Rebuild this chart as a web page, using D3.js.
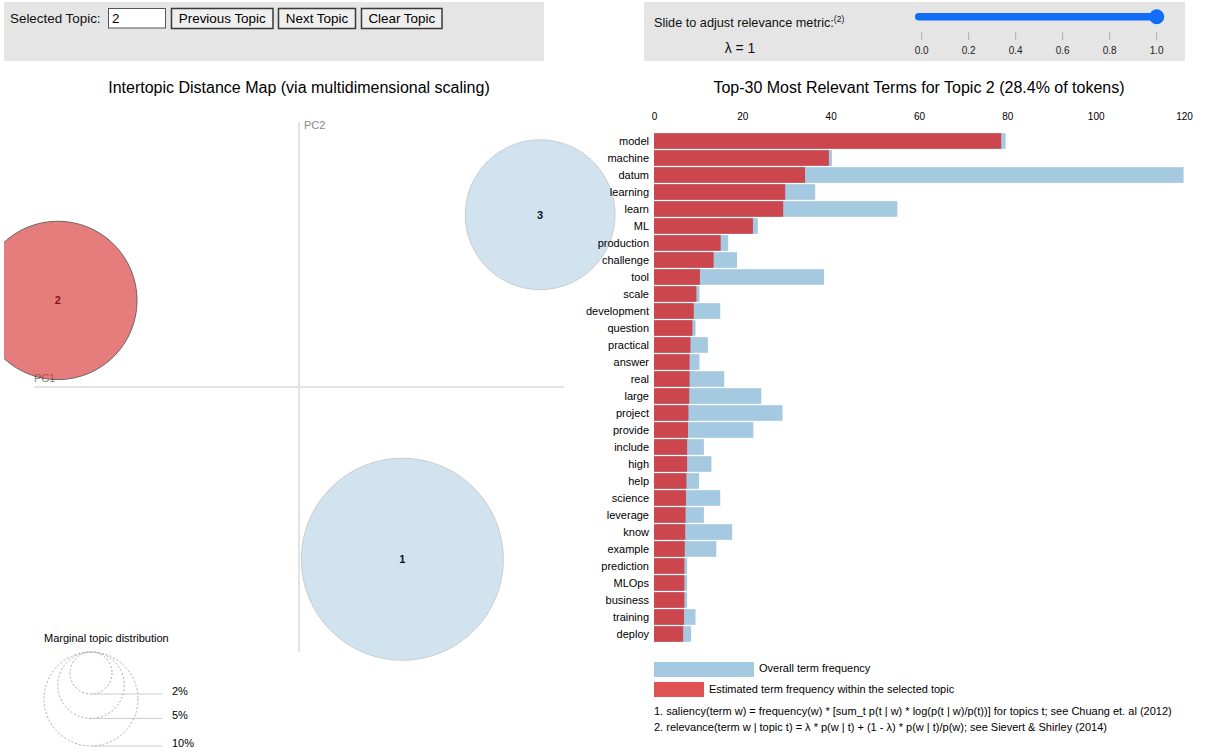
<!DOCTYPE html>
<html>
<head>
<meta charset="utf-8">
<script src="https://cdn.jsdelivr.net/npm/d3@7"></script>
<style>
  html, body { margin: 0; padding: 0; background: #fff; }
  svg { display: block; font-family: "Liberation Sans", Arial, Helvetica, sans-serif; }
</style>
</head>
<body>
<svg id="chart" width="1205" height="755"></svg>
<script>
// ---------------- DATA ----------------
const topicIds = [1, 2, 3];
const topicPC1 = [0.117, -0.273, 0.273];
const topicPC2 = [-0.195, 0.098, 0.195];
const topicFreq = [46.2, 28.4, 25.4];           // % of tokens
const selectedTopic = 2;

const terms = ["model", "machine", "datum", "learning", "learn", "ML", "production", "challenge",
  "tool", "scale", "development", "question", "practical", "answer", "real", "large", "project",
  "provide", "include", "high", "help", "science", "leverage", "know", "example", "prediction",
  "MLOps", "business", "training", "deploy"];
const termTotal = [79.6, 40.3, 119.9, 36.5, 55.1, 23.5, 16.8, 18.8, 38.5, 10.3, 15.0, 9.4, 12.2,
  10.3, 15.9, 24.3, 29.1, 22.5, 11.3, 13.0, 10.2, 15.0, 11.3, 17.7, 14.1, 7.5, 7.5, 7.5, 9.4, 8.4];
const termTopic = [78.6, 39.6, 34.2, 29.7, 29.25, 22.4, 15.1, 13.5, 10.4, 9.6, 9.0, 8.7, 8.25,
  8.06, 8.06, 7.97, 7.79, 7.7, 7.5, 7.5, 7.33, 7.24, 7.15, 7.06, 6.97, 6.88, 6.88, 6.88, 6.8, 6.6];

const barTicks = [0, 20, 40, 60, 80, 100, 120];
const lambdaTicks = [0, 0.2, 0.4, 0.6, 0.8, 1.0];
const lambdaValue = 1;
const legendPcts = [2, 5, 10];
const buttonLabels = ["Previous Topic", "Next Topic", "Clear Topic"];
const footnotes = [
  "1. saliency(term w) = frequency(w) * [sum_t p(t | w) * log(p(t | w)/p(t))] for topics t; see Chuang et. al (2012)",
  "2. relevance(term w | topic t) = \u03bb * p(w | t) + (1 - \u03bb) * p(w | t)/p(w); see Sievert & Shirley (2014)"
];

// ---------------- STYLE ----------------
const color1 = "#1f77b4", color2 = "#d62728";
const svg = d3.select("#chart");

// ---------------- TOP CONTROLS ----------------
svg.append("rect").attr("x", 4).attr("y", 2).attr("width", 540).attr("height", 59).attr("fill", "#e5e5e5");
svg.append("rect").attr("x", 644).attr("y", 2).attr("width", 541).attr("height", 59).attr("fill", "#e5e5e5");

svg.append("text").attr("x", 10).attr("y", 23).attr("font-size", 13.4).attr("fill", "#111").text("Selected Topic:");
svg.append("rect").attr("x", 108.5).attr("y", 8.5).attr("width", 57).attr("height", 19.5)
  .attr("fill", "#fff").attr("stroke", "#555").attr("stroke-width", 1);
svg.append("text").attr("x", 112).attr("y", 23).attr("font-size", 13.4).attr("fill", "#000").text(String(selectedTopic));

const btnX = [171.5, 278.5, 361.5], btnW = [101.5, 77, 80.5];
buttonLabels.forEach((lab, i) => {
  svg.append("rect").attr("x", btnX[i]).attr("y", 8.5).attr("width", btnW[i]).attr("height", 20)
    .attr("fill", "#efefef").attr("stroke", "#3a3a3a").attr("stroke-width", 1.5);
  svg.append("text").attr("x", btnX[i] + btnW[i] / 2).attr("y", 23).attr("text-anchor", "middle")
    .attr("font-size", 13.4).attr("fill", "#000").text(lab);
});

const sl = svg.append("text").attr("x", 654).attr("y", 27).attr("font-size", 12.7).attr("fill", "#111");
sl.append("tspan").text("Slide to adjust relevance metric:");
sl.append("tspan").attr("font-size", 8.5).attr("dy", -5).text("(2)");
svg.append("text").attr("x", 740).attr("y", 53).attr("text-anchor", "middle").attr("font-size", 14)
  .attr("fill", "#111").text("\u03bb = " + lambdaValue);

const lx = d3.scaleLinear().domain([0, 1]).range([921.7, 1156.7]);
svg.append("line").attr("x1", lx(0) - 3).attr("x2", lx(lambdaValue)).attr("y1", 16.7).attr("y2", 16.7)
  .attr("stroke", "#0f6ef5").attr("stroke-width", 7.5).attr("stroke-linecap", "round");
svg.append("circle").attr("cx", lx(lambdaValue)).attr("cy", 16.7).attr("r", 7.5).attr("fill", "#0f6ef5");
lambdaTicks.forEach(t => {
  svg.append("line").attr("x1", lx(t)).attr("x2", lx(t)).attr("y1", 32.5).attr("y2", 40)
    .attr("stroke", "#aaa").attr("stroke-width", 1);
  svg.append("text").attr("x", lx(t)).attr("y", 54).attr("text-anchor", "middle").attr("font-size", 10)
    .attr("fill", "#222").text(t.toFixed(1));
});

// ---------------- LEFT: MDS ----------------
svg.append("text").attr("x", 299).attr("y", 92.5).attr("text-anchor", "middle").attr("font-size", 16)
  .attr("fill", "#000").text("Intertopic Distance Map (via multidimensional scaling)");

const mx = d3.scaleLinear().domain([-0.3, 0.3]).range([34, 564]);
const my = d3.scaleLinear().domain([-0.3, 0.3]).range([652, 122]);
const rScale = d3.scaleSqrt().domain([0, 10]).range([0, 47]);

svg.append("defs").append("clipPath").attr("id", "leftclip")
  .append("rect").attr("x", 4).attr("y", 0).attr("width", 1201).attr("height", 755);

const mds = svg.append("g").attr("clip-path", "url(#leftclip)");
mds.append("line").attr("x1", mx(-0.3)).attr("x2", mx(0.3)).attr("y1", my(0)).attr("y2", my(0))
  .attr("stroke", "#e3e3e3").attr("stroke-width", 2);
mds.append("line").attr("x1", mx(0)).attr("x2", mx(0)).attr("y1", my(0.3)).attr("y2", my(-0.3))
  .attr("stroke", "#e3e3e3").attr("stroke-width", 2);
mds.append("text").attr("x", mx(-0.3)).attr("y", my(0) - 5.5).attr("font-size", 11).attr("fill", "#888").text("PC1");
mds.append("text").attr("x", mx(0) + 5).attr("y", my(0.3) + 7).attr("font-size", 11).attr("fill", "#888").text("PC2");

const topics = topicIds.map((id, i) => ({ id, x: topicPC1[i], y: topicPC2[i], f: topicFreq[i] }));
mds.selectAll("text.tl").data(topics).enter().append("text").attr("class", "tl")
  .attr("x", d => mx(d.x)).attr("y", d => my(d.y) + 4).attr("text-anchor", "middle")
  .attr("font-size", 11).attr("font-weight", "bold").attr("fill", "#000").text(d => d.id);
mds.selectAll("circle.tc").data(topics).enter().append("circle").attr("class", "tc")
  .attr("cx", d => mx(d.x)).attr("cy", d => my(d.y)).attr("r", d => rScale(d.f))
  .attr("fill", d => d.id === selectedTopic ? color2 : color1)
  .attr("stroke", "#000").attr("stroke-width", 1)
  .style("opacity", d => d.id === selectedTopic ? 0.6 : 0.2);

// marginal legend
svg.append("text").attr("x", 44).attr("y", 642).attr("font-size", 11).attr("fill", "#000").text("Marginal topic distribution");
const legTop = 652, legCx = 91;
legendPcts.forEach(p => {
  const r = rScale(p);
  svg.append("circle").attr("cx", legCx).attr("cy", legTop + r).attr("r", r)
    .attr("fill", "none").attr("stroke", "#aaa").attr("stroke-dasharray", "2,2");
  svg.append("line").attr("x1", legCx).attr("x2", 162).attr("y1", legTop + 2 * r).attr("y2", legTop + 2 * r)
    .attr("stroke", "#ccc").attr("stroke-width", 1);
  svg.append("text").attr("x", 172).attr("y", legTop + 2 * r + 1).attr("font-size", 11).attr("fill", "#000").text(p + "%");
});

// ---------------- RIGHT: BARS ----------------
const selFreq = topicFreq[topicIds.indexOf(selectedTopic)];
svg.append("text").attr("x", 919).attr("y", 92.5).attr("text-anchor", "middle").attr("font-size", 16)
  .attr("fill", "#000").text("Top-30 Most Relevant Terms for Topic " + selectedTopic + " (" + selFreq + "% of tokens)");

const bx = d3.scaleLinear().domain([0, 120]).range([654, 1184]);
const by = d3.scaleBand().domain(terms).range([132.5, 642.5]).paddingInner(0.08).paddingOuter(0.04);

const xAxis = svg.append("g").attr("transform", "translate(0,132)")
  .call(d3.axisTop(bx).tickValues(barTicks).tickSize(0).tickPadding(12));
xAxis.select(".domain").remove();
xAxis.selectAll("text").attr("font-size", 10).attr("font-family", "Liberation Sans, Arial, sans-serif").attr("fill", "#000");

const bars = terms.map((t, i) => ({ t, total: termTotal[i], topic: termTopic[i] }));
svg.selectAll("rect.tot").data(bars).enter().append("rect").attr("class", "tot")
  .attr("x", bx(0)).attr("y", d => by(d.t)).attr("height", by.bandwidth())
  .attr("width", d => bx(d.total) - bx(0)).attr("fill", color1).attr("opacity", 0.4);
svg.selectAll("rect.top").data(bars).enter().append("rect").attr("class", "top")
  .attr("x", bx(0)).attr("y", d => by(d.t)).attr("height", by.bandwidth())
  .attr("width", d => bx(d.topic) - bx(0)).attr("fill", color2).attr("opacity", 0.8);
svg.selectAll("text.term").data(bars).enter().append("text").attr("class", "term")
  .attr("x", 649).attr("y", d => by(d.t) + by.bandwidth() / 2 + 4).attr("text-anchor", "end")
  .attr("font-size", 11).attr("fill", "#000").text(d => d.t);

// legend
svg.append("rect").attr("x", 654).attr("y", 662).attr("width", 100).attr("height", 15).attr("fill", color1).attr("opacity", 0.4);
svg.append("text").attr("x", 759).attr("y", 672).attr("font-size", 11).attr("fill", "#000").text("Overall term frequency");
svg.append("rect").attr("x", 654).attr("y", 682).attr("width", 50).attr("height", 15).attr("fill", color2).attr("opacity", 0.8);
svg.append("text").attr("x", 709).attr("y", 692.5).attr("font-size", 11).attr("fill", "#000").text("Estimated term frequency within the selected topic");

footnotes.forEach((f, i) => {
  svg.append("text").attr("x", 654).attr("y", 715 + i * 16).attr("font-size", 11).attr("fill", "#000").text(f);
});
</script>
</body>
</html>
